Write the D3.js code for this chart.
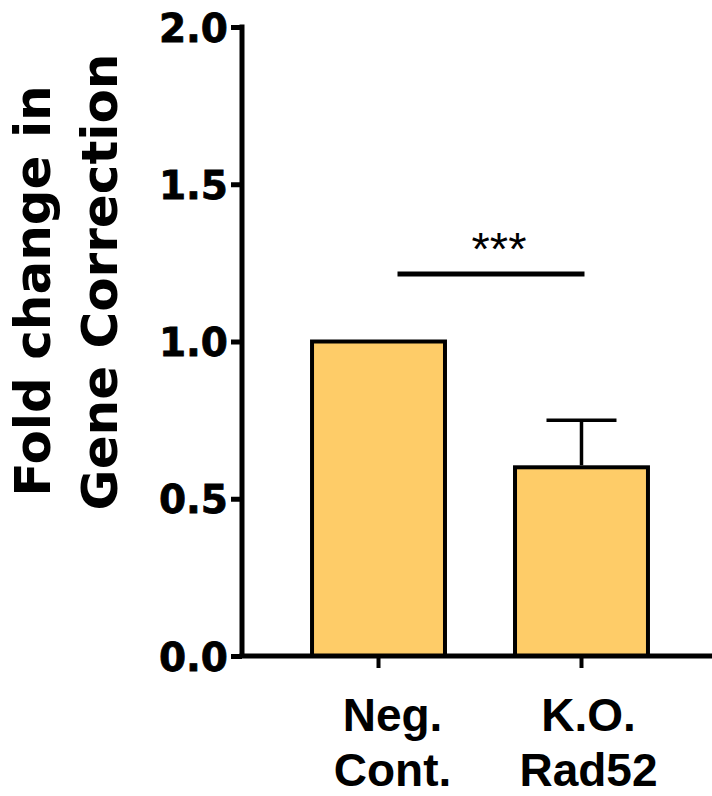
<!DOCTYPE html>
<html>
<head>
<meta charset="utf-8">
<script src="https://cdnjs.cloudflare.com/ajax/libs/d3/7.8.5/d3.min.js"></script>
<style>
  body { margin: 0; background: #fff; }
  svg { display: block; }
</style>
</head>
<body>
<svg id="chart" width="712" height="796"></svg>
<script>
// data
var categories = ["Neg. Cont.", "K.O. Rad52"];
var labelLines = [["Neg.", "Cont."], ["K.O.", "Rad52"]];
var values = [1.0, 0.6];
var errors = [0, 0.15];
var yTicks = [0.0, 0.5, 1.0, 1.5, 2.0];
var sigPair = ["Neg. Cont.", "K.O. Rad52"];
var sigLevel = 1.215;
var sigText = "***";

var svg = d3.select("#chart");

var y = d3.scaleLinear().domain([0, 2]).range([656, 27]);
var x = d3.scaleBand().domain(categories).range([242, 718]).padding(0.345);

// bars
svg.selectAll("rect.bar")
  .data(values).enter()
  .append("rect")
  .attr("class", "bar")
  .attr("x", function (d, i) { return x(categories[i]); })
  .attr("y", function (d) { return y(d); })
  .attr("width", x.bandwidth())
  .attr("height", function (d) { return y(0) - y(d); })
  .attr("fill", "#fecc68")
  .attr("stroke", "#000")
  .attr("stroke-width", 4);

// error bars (upper only)
var eb = svg.selectAll("g.err")
  .data(values).enter()
  .append("g")
  .attr("class", "err")
  .filter(function (d, i) { return errors[i] > 0; });

eb.append("line")
  .attr("x1", function () { return x(categories[1]) + x.bandwidth() / 2; })
  .attr("x2", function () { return x(categories[1]) + x.bandwidth() / 2; })
  .attr("y1", function (d) { return y(d) - 2; })
  .attr("y2", function (d) { return y(d + errors[1]); })
  .attr("stroke", "#000").attr("stroke-width", 3.5);

eb.append("line")
  .attr("x1", function () { return x(categories[1]) + x.bandwidth() / 2 - 35; })
  .attr("x2", function () { return x(categories[1]) + x.bandwidth() / 2 + 35; })
  .attr("y1", function (d) { return y(d + errors[1]); })
  .attr("y2", function (d) { return y(d + errors[1]); })
  .attr("stroke", "#000").attr("stroke-width", 3.5);

// y axis
var yAxis = svg.append("g")
  .attr("transform", "translate(242,0)")
  .call(d3.axisLeft(y).tickValues(yTicks).tickFormat(d3.format(".1f")).tickSize(11).tickPadding(3));
yAxis.select(".domain").attr("stroke-width", 5).attr("d", "M0," + (y(2) - 2.5) + "V" + y(0));
yAxis.selectAll(".tick line").attr("stroke-width", 5);
yAxis.selectAll(".tick text")
  .attr("font-family", "'DejaVu Sans', sans-serif")
  .attr("font-weight", "bold")
  .attr("font-size", 39)
  .attr("fill", "#000")
  .attr("stroke", "#000")
  .attr("stroke-width", 0.8)
  .attr("dy", "0.36em");

// x axis
var xAxis = svg.append("g")
  .attr("transform", "translate(0," + y(0) + ")")
  .call(d3.axisBottom(x).tickSize(12).tickFormat(""));
xAxis.select(".domain").attr("stroke-width", 5).attr("d", "M" + (242 - 2.5) + ",0H712");
xAxis.selectAll(".tick line").attr("stroke-width", 4);

// category labels, two lines each
svg.selectAll("text.cat")
  .data(labelLines).enter()
  .append("text")
  .attr("class", "cat")
  .attr("font-family", "'Liberation Sans', Arial, sans-serif")
  .attr("font-weight", "bold")
  .attr("font-size", 46)
  .attr("text-anchor", "middle")
  .each(function (d, i) {
    var cx = x(categories[i]) + x.bandwidth() / 2 + (i === 0 ? 14 : 7);
    d3.select(this).selectAll("tspan")
      .data(d).enter()
      .append("tspan")
      .attr("x", cx)
      .attr("y", function (t, j) { return 731 + j * 55; })
      .text(function (t) { return t; });
  });

// y axis title
var title = svg.append("text")
  .attr("transform", "rotate(-90)")
  .attr("font-family", "'DejaVu Sans', sans-serif")
  .attr("font-weight", "bold")
  .attr("font-size", 50)
  .attr("text-anchor", "middle");
title.append("tspan").attr("x", -291).attr("y", 50).text("Fold change in");
title.append("tspan").attr("x", -282).attr("y", 117).text("Gene Correction");

// significance bracket
var sx1 = x(sigPair[0]) + x.bandwidth() / 2 + 19;
var sx2 = x(sigPair[1]) + x.bandwidth() / 2 + 3;
svg.append("line")
  .attr("x1", sx1).attr("x2", sx2)
  .attr("y1", y(sigLevel)).attr("y2", y(sigLevel))
  .attr("stroke", "#000").attr("stroke-width", 5);
svg.append("text")
  .attr("x", (sx1 + sx2) / 2 + 8)
  .attr("y", y(sigLevel) - 9)
  .attr("text-anchor", "middle")
  .attr("font-family", "'Liberation Sans', Arial, sans-serif")
  .attr("font-size", 47)
  .text(sigText);
</script>
</body>
</html>
